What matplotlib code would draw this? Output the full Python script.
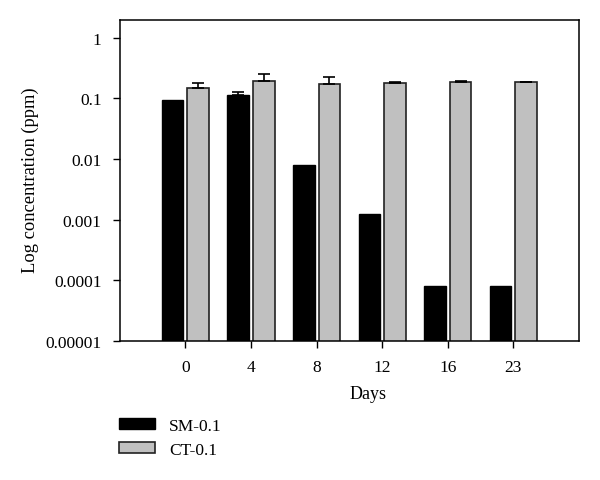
import numpy as np
import matplotlib
matplotlib.use("Agg")
from matplotlib import pyplot as plt
from matplotlib.ticker import FixedLocator, FixedFormatter, NullLocator

days = ["0", "4", "8", "12", "16", "23"]
sm_values = [0.095, 0.116, 0.0081, 0.00122, 0.000081, 0.000081]
sm_err = [0.0, 0.012, 0.0, 0.0, 0.0, 0.0]
ct_values = [0.148, 0.193, 0.172, 0.179, 0.188, 0.184]
ct_err = [0.029, 0.062, 0.050, 0.006, 0.005, 0.004]
series_labels = ["SM-0.1", "CT-0.1"]

y_ticks = [1e-5, 1e-4, 1e-3, 1e-2, 1e-1, 1]
y_tick_labels = ["0.00001", "0.0001", "0.001", "0.01", "0.1", "1"]

plt.rcParams['font.family'] = ['Liberation Serif', 'DejaVu Serif']
plt.rcParams['font.size'] = 12.5

fig = plt.figure(figsize=(6, 4.81), dpi=100)
ax = fig.add_axes([0.1995, 0.2896, 0.7655, 0.6674])

x = np.arange(len(days))
w = 0.33
off = 0.195
b1 = ax.bar(x - off, sm_values, width=w, color="black", edgecolor="black", linewidth=1.0)
b2 = ax.bar(x + off, ct_values, width=w, color="#c0c0c0", edgecolor="#222222", linewidth=1.2)


def up_errors(xs, vals, errs):
    # only the upper half of each error bar, skip the zero ones
    vals = np.array(vals)
    errs = np.array(errs)
    keep = errs > 0
    ax.errorbar(xs[keep], vals[keep], yerr=[np.zeros(keep.sum()), errs[keep]],
                fmt="none", ecolor="black", elinewidth=1.2, capsize=4, capthick=1.2)


up_errors(x - off, sm_values, sm_err)
up_errors(x + off, ct_values, ct_err)

ax.set_yscale("log")
ax.set_ylim(1e-5, 2.0)
ax.set_xlim(-1.0, 6.0)
ax.yaxis.set_major_locator(FixedLocator(y_ticks))
ax.yaxis.set_major_formatter(FixedFormatter(y_tick_labels))
ax.yaxis.set_minor_locator(NullLocator())
ax.set_xticks(x)
ax.set_xticklabels(days)
ax.tick_params(direction="out", length=5, width=1, pad=8)
for s in ax.spines.values():
    s.set_linewidth(1.1)

fig.text(30 / 600, 1 - 180.5 / 481, "Log concentration (ppm)", rotation=90,
         ha="center", va="center", fontsize=13.3)
fig.text(368 / 600, 1 - 395 / 481, "Days", ha="center", va="center", fontsize=13)

fig.legend([b1, b2], series_labels, loc="upper left",
           bbox_to_anchor=(112 / 600, 1 - 412 / 481), frameon=False,
           handlelength=2.1, handleheight=0.6, labelspacing=0.45,
           handletextpad=0.8, borderaxespad=0)

fig.savefig("out.png", dpi=100)
